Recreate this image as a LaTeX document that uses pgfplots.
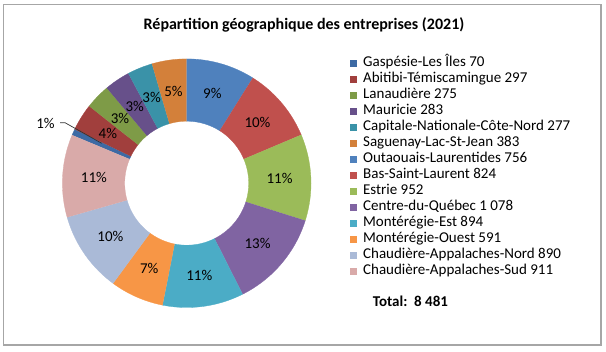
\documentclass[border=0pt]{standalone}
\usepackage{pgfplots}
\pgfplotsset{compat=1.18}
\usepackage{fontspec}
\setmainfont{Carlito}

\definecolor{sc0}{HTML}{3D6AA4}
\definecolor{sc1}{HTML}{A13F3D}
\definecolor{sc2}{HTML}{7E9B47}
\definecolor{sc3}{HTML}{67508A}
\definecolor{sc4}{HTML}{3A92A8}
\definecolor{sc5}{HTML}{D3803A}
\definecolor{sc6}{HTML}{4F81BD}
\definecolor{sc7}{HTML}{C0504D}
\definecolor{sc8}{HTML}{9BBB59}
\definecolor{sc9}{HTML}{8064A2}
\definecolor{sc10}{HTML}{4BACC6}
\definecolor{sc11}{HTML}{F79646}
\definecolor{sc12}{HTML}{AABAD7}
\definecolor{sc13}{HTML}{D9AAA9}

% values (Gaspésie ... Chaudière-Appalaches-Sud)
\def\vals{70,297,275,283,277,383,756,824,952,1078,894,591,890,911}
\def\total{8481}
\def\cx{186.7}\def\cy{167.8}\def\Ro{124.3}\def\Ri{62}\def\Rl{93}
\pgfmathsetmacro\startangle{90+(70+297+275+283+277+383)/\total*360}

\xdef\cum{0}
\foreach \v [count=\i from 0] in \vals {%
  \pgfmathsetmacro\a{\startangle - \cum/\total*360}%
  \pgfmathsetmacro\b{\a - \v/\total*360}%
  \pgfmathsetmacro\m{(\a+\b)/2}%
  \pgfmathsetmacro\lx{\cx+\Rl*cos(\m)}%
  \pgfmathsetmacro\ly{\cy+\Rl*sin(\m)}%
  \pgfmathtruncatemacro\pc{round(\v/\total*100)}%
  \expandafter\xdef\csname sa\i\endcsname{\a}%
  \expandafter\xdef\csname sb\i\endcsname{\b}%
  \expandafter\xdef\csname lx\i\endcsname{\lx}%
  \expandafter\xdef\csname ly\i\endcsname{\ly}%
  \expandafter\xdef\csname pc\i\endcsname{\pc}%
  \pgfmathsetmacro\nc{\cum+\v}%
  \xdef\cum{\nc}%
}

\newcommand\txt{\fontsize{15bp}{18bp}\selectfont}

\begin{document}
\begin{tikzpicture}
\begin{axis}[
  x=1bp, y=1bp, xmin=0, xmax=606, ymin=0, ymax=351,
  hide axis, clip=false,
  legend entries={Gaspésie-Les Îles 70, Abitibi-Témiscamingue 297, Lanaudière 275, Mauricie 283, Capitale-Nationale-Côte-Nord 277, Saguenay-Lac-St-Jean 383, Outaouais-Laurentides 756, Bas-Saint-Laurent 824, Estrie 952, Centre-du-Québec 1 078, Montérégie-Est 894, Montérégie-Ouest 591, Chaudière-Appalaches-Nord 890, Chaudière-Appalaches-Sud 911},
  legend image code/.code={\path[#1,draw=none] (0bp,0bp) rectangle (7bp,7bp); \path (13bp,0bp);},
  legend style={draw=none, fill=none, at={(axis cs:350,295.5)}, anchor=north west,
    inner sep=0pt, outer sep=0pt, row sep=0pt, column sep=0pt, font=\txt,
    nodes={inner sep=0pt, outer sep=0pt, text height=11bp, text depth=5bp, anchor=base west}},
]
\path (axis cs:0,0) rectangle (axis cs:606,351);
\draw[color=black!35, line width=1.5bp] (axis cs:3.5,346.5) rectangle (axis cs:601,6);

\pgfplotsinvokeforeach{0,...,13}{
  \addplot[fill=sc#1, draw=sc#1, line width=0.3bp, domain=0:2, samples=121, variable=\t]
   ({\cx + ifthenelse(\t<1.001, \Ro*cos(\csname sa#1\endcsname + (\csname sb#1\endcsname-\csname sa#1\endcsname)*\t), \Ri*cos(\csname sb#1\endcsname + (\csname sa#1\endcsname-\csname sb#1\endcsname)*(60*\t-61)/59))},
    {\cy + ifthenelse(\t<1.001, \Ro*sin(\csname sa#1\endcsname + (\csname sb#1\endcsname-\csname sa#1\endcsname)*\t), \Ri*sin(\csname sb#1\endcsname + (\csname sa#1\endcsname-\csname sb#1\endcsname)*(60*\t-61)/59))});
}
\pgfplotsinvokeforeach{1,...,13}{
  \node[font=\txt, inner sep=0pt, anchor=center] at (axis cs:\csname lx#1\endcsname,\csname ly#1\endcsname) {\csname pc#1\endcsname\%};
}
% label of the smallest slice, with its leader line
\addplot[forget plot, color=black!80, line width=0.7bp] coordinates {(60,228.3) (65,228.3) (101.7,207.7)};
\node[font=\txt, inner sep=0pt, anchor=center] at (axis cs:45.5,227.5) {1\%};

\node[font=\bfseries\fontsize{16bp}{19bp}\selectfont, anchor=base, inner sep=0pt] at (axis cs:304,322) {Répartition géographique des entreprises (2021)};
\node[font=\bfseries\txt, anchor=base west, inner sep=0pt] at (axis cs:372.7,44.3) {Total:\ \ 8\ 481};
\end{axis}
\end{tikzpicture}
\end{document}
